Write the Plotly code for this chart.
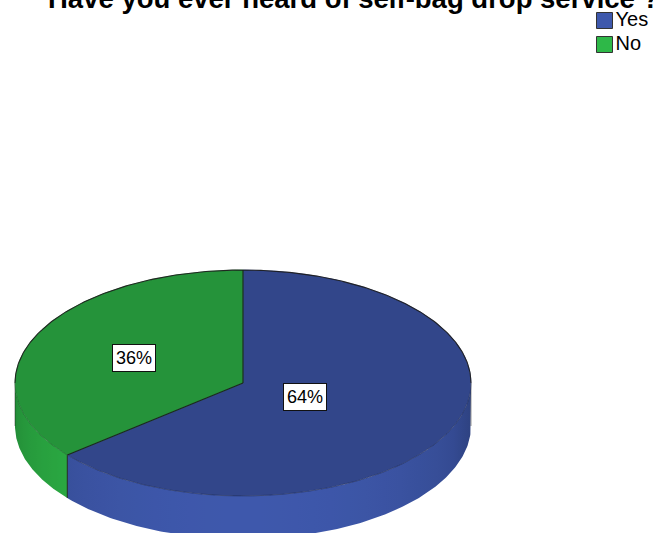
import numpy as np
import plotly.graph_objects as go

# ---- data -------------------------------------------------------------
categories = ["Yes", "No"]
percent = [64, 36]
colors = ["#3E58AC", "#2EB848"]
title_text = "Have you ever heard of self-bag drop service ?"

# ---- 3D pie geometry (in pixel-like axis units) -----------------------
W, H = 653, 533
CX, CY = 243, 383          # centre of the top face
RX, RY = 228, 113          # radii of the top ellipse
DEPTH = 43                 # thickness of the disc
START = 90                 # first slice starts at 12 o'clock, runs clockwise
LABEL_R = [0.30, 0.53]     # radial position of each percentage label
TOP_SHADE = 0.80
EDGE = "rgba(25,25,25,0.9)"
FONT = "Arial, Liberation Sans, sans-serif"


def ellipse(t_deg, dy=0.0):
    t = np.radians(np.asarray(t_deg, dtype=float))
    return CX + RX * np.cos(t), CY - RY * np.sin(t) + dy


def scale(hex_color, f):
    h = hex_color.lstrip("#")
    r, g, b = (int(h[i:i + 2], 16) for i in (0, 2, 4))
    f = max(0.0, f)
    return "rgb({},{},{})".format(*(min(255, int(round(c * f))) for c in (r, g, b)))


def side_light(x):
    # brightness of the side wall at horizontal position x (front half)
    t = -np.arccos(np.clip((x - CX) / RX, -1, 1))
    return 0.75 + 0.25 * (-np.sin(t))


total = float(sum(percent))
cum = np.concatenate([[0.0], np.cumsum(percent)])
ends = START - 360.0 * cum / total          # slice i spans [ends[i+1], ends[i]]

fig = go.Figure()

# side wall (front half only), one gradient-filled band per slice
for i, col in enumerate(colors):
    a_hi, a_lo = ends[i], ends[i + 1]
    for k in (-1, 0, 1):
        lo = max(a_lo, -180 + 360 * k)
        hi = min(a_hi, 360 * k)
        if hi <= lo:
            continue
        ts = np.linspace(lo, hi, 200)
        xt, yt = ellipse(ts)
        xb, yb = ellipse(ts[::-1], DEPTH)
        x0, x1 = float(xt.min()), float(xt.max())
        stops = np.linspace(0, 1, 24)
        cscale = [[float(s), scale(col, side_light(x0 + s * (x1 - x0)))] for s in stops]
        fig.add_trace(go.Scatter(
            x=np.concatenate([xt, xb]), y=np.concatenate([yt, yb]),
            fill="toself", mode="lines", line=dict(width=0),
            fillgradient=dict(type="horizontal", colorscale=cscale, start=x0, stop=x1),
            hoverinfo="skip", showlegend=False))

# vertical edges on the side wall: slice boundaries and silhouettes
for a in list(ends[:-1]) + [180.0, 360.0]:
    if np.sin(np.radians(a)) <= 1e-9:
        x0, y0 = ellipse(a)
        x1, y1 = ellipse(a, DEPTH)
        silhouette = abs(np.sin(np.radians(a))) < 1e-6
        fig.add_trace(go.Scatter(
            x=[float(x0), float(x1)], y=[float(y0), float(y1)], mode="lines",
            line=dict(color="rgba(25,25,25,0.45)" if silhouette else EDGE, width=1),
            hoverinfo="skip", showlegend=False))

# top faces of the slices
for i, (cat, col) in enumerate(zip(categories, colors)):
    ts = np.linspace(ends[i], ends[i + 1], 240)
    xs, ys = ellipse(ts)
    c = scale(col, TOP_SHADE)
    fig.add_trace(go.Scatter(
        x=np.concatenate([[CX], xs, [CX]]), y=np.concatenate([[CY], ys, [CY]]),
        fill="toself", fillcolor=c, mode="lines", line=dict(color=c, width=0.6),
        name=cat, hovertemplate=f"{cat}: {percent[i]}%<extra></extra>",
        showlegend=False))

# outlines of the top face
tb = np.linspace(0, 180, 300)
xb, yb = ellipse(tb)
fig.add_trace(go.Scatter(x=xb, y=yb, mode="lines", line=dict(color=EDGE, width=1.1),
                         hoverinfo="skip", showlegend=False))
tf = np.linspace(180, 360, 300)
xf, yf = ellipse(tf)
fig.add_trace(go.Scatter(x=xf, y=yf, mode="lines",
                         line=dict(color="rgba(0,0,0,0.25)", width=0.8),
                         hoverinfo="skip", showlegend=False))
for a in ends[:-1]:
    xe, ye = ellipse(a)
    fig.add_trace(go.Scatter(x=[CX, float(xe)], y=[CY, float(ye)], mode="lines",
                             line=dict(color=EDGE, width=1.1),
                             hoverinfo="skip", showlegend=False))

# percentage labels
annotations = []
for i, p in enumerate(percent):
    mid = 0.5 * (ends[i] + ends[i + 1])
    t = np.radians(mid)
    annotations.append(dict(
        x=CX + LABEL_R[i] * RX * np.cos(t), y=CY - LABEL_R[i] * RY * np.sin(t),
        xref="x", yref="y", text=f"{p}%", showarrow=False,
        font=dict(family=FONT, size=18, color="#000"),
        bgcolor="white", bordercolor="#111", borderwidth=1, borderpad=3))

# chart title, partly above the top edge of the canvas
annotations.append(dict(
    x=46 / W, y=1, xref="paper", yref="paper", xanchor="left", yanchor="middle",
    yshift=1.5, text=f"<b>{title_text}</b>", showarrow=False,
    font=dict(family=FONT, size=27.5, color="#000")))

# legend swatches
LEG_X, LEG_Y, LEG_STEP = 604.5, 20.5, 24
fig.add_trace(go.Scatter(
    x=[LEG_X] * len(categories), y=[LEG_Y + LEG_STEP * i for i in range(len(categories))],
    mode="markers+text", text=categories, textposition="middle right",
    textfont=dict(family=FONT, size=20, color="#000"),
    marker=dict(symbol="square", size=16, color=colors,
                line=dict(color="#333", width=1)),
    hoverinfo="skip", showlegend=False, cliponaxis=False))

fig.update_layout(
    width=W, height=H,
    margin=dict(l=0, r=0, t=0, b=0),
    paper_bgcolor="white", plot_bgcolor="white",
    xaxis=dict(range=[0, W], visible=False, fixedrange=True),
    yaxis=dict(range=[H, 0], visible=False, fixedrange=True),
    annotations=annotations,
    showlegend=False,
)

fig.write_html("out.html")
